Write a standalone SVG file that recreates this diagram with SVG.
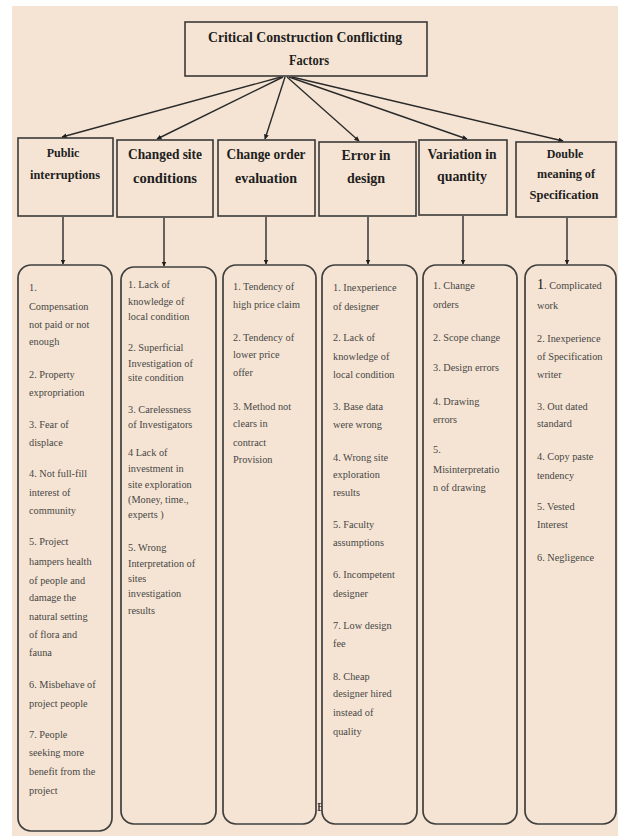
<svg xmlns="http://www.w3.org/2000/svg" width="618" height="836" viewBox="0 0 618 836">
<defs>
<style>
.box{fill:#F5E4D3;stroke:#3a3a3a;stroke-width:1.6}
.rbox{fill:#F5E4D3;stroke:#3f3f3f;stroke-width:1.7}
.hd{font-family:"Liberation Serif",serif;font-weight:bold;fill:#1e1e1e;text-anchor:middle}
.it{font-family:"Liberation Serif",serif;font-size:10.3px;fill:#474747}
.con{stroke:#2a2a2a;stroke-width:1.4;fill:none;marker-end:url(#ah)}
</style>
<marker id="ah" viewBox="0 0 10 10" refX="9" refY="5" markerWidth="5" markerHeight="5" orient="auto" markerUnits="userSpaceOnUse">
<path d="M0,0 L10,5 L0,10 z" fill="#1e1e1e"/>
</marker>
</defs>
<rect x="0" y="0" width="618" height="836" fill="#ffffff"/>
<rect x="12" y="6" width="606" height="830" fill="#F5E4D3"/>
<text x="317" y="811" font-family="Liberation Serif,serif" font-size="12" fill="#111">E</text>
<g id="connectors">
<line class="con" x1="281" y1="77" x2="62" y2="137"/>
<line class="con" x1="283" y1="77" x2="157" y2="139"/>
<line class="con" x1="285" y1="77" x2="265" y2="139"/>
<line class="con" x1="287" y1="77" x2="359" y2="141"/>
<line class="con" x1="289" y1="77" x2="467" y2="139"/>
<line class="con" x1="292" y1="77" x2="563" y2="141"/>
<line class="con" x1="63" y1="217" x2="63" y2="264"/>
<line class="con" x1="164" y1="218" x2="164" y2="266"/>
<line class="con" x1="266" y1="217" x2="266" y2="264"/>
<line class="con" x1="368" y1="217" x2="368" y2="264"/>
<line class="con" x1="463" y1="216" x2="463" y2="264"/>
<line class="con" x1="567" y1="218" x2="567" y2="264"/>
</g>
<g id="root">
<rect class="box" x="185" y="22" width="242" height="54"/>
<text class="hd" x="305" y="42" font-size="15" textLength="194" lengthAdjust="spacingAndGlyphs">Critical Construction Conflicting</text>
<text class="hd" x="309" y="65" font-size="15" textLength="40" lengthAdjust="spacingAndGlyphs">Factors</text>
</g>
<g id="n1">
<rect class="box" x="18" y="138" width="95" height="78"/>
<text class="hd" x="63" y="157" font-size="12">Public</text>
<text class="hd" x="65" y="179" font-size="12" textLength="70" lengthAdjust="spacingAndGlyphs">interruptions</text>
</g>
<g id="n2">
<rect class="box" x="117" y="140" width="96" height="77"/>
<text class="hd" x="165" y="159" font-size="14" textLength="74" lengthAdjust="spacingAndGlyphs">Changed site</text>
<text class="hd" x="165" y="183" font-size="14" textLength="64" lengthAdjust="spacingAndGlyphs">conditions</text>
</g>
<g id="n3">
<rect class="box" x="218" y="140" width="97" height="76"/>
<text class="hd" x="266" y="159" font-size="14" textLength="79" lengthAdjust="spacingAndGlyphs">Change order</text>
<text class="hd" x="266" y="183" font-size="14" textLength="62" lengthAdjust="spacingAndGlyphs">evaluation</text>
</g>
<g id="n4">
<rect class="box" x="319" y="142" width="97" height="74"/>
<text class="hd" x="366" y="160" font-size="14" textLength="49" lengthAdjust="spacingAndGlyphs">Error in</text>
<text class="hd" x="366" y="183" font-size="14">design</text>
</g>
<g id="n5">
<rect class="box" x="419" y="140" width="88" height="75"/>
<text class="hd" x="462" y="159" font-size="14" textLength="69" lengthAdjust="spacingAndGlyphs">Variation in</text>
<text class="hd" x="462" y="181" font-size="14" textLength="50" lengthAdjust="spacingAndGlyphs">quantity</text>
</g>
<g id="n6">
<rect class="box" x="516" y="142" width="100" height="75"/>
<text class="hd" x="565" y="158" font-size="12">Double</text>
<text class="hd" x="566" y="178" font-size="12" textLength="58" lengthAdjust="spacingAndGlyphs">meaning of</text>
<text class="hd" x="564" y="199" font-size="12" textLength="69" lengthAdjust="spacingAndGlyphs">Specification</text>
</g>
<g id="d1">
<rect class="rbox" x="18" y="265" width="94" height="566" rx="13"/>
<text class="it" x="29" y="291">1.</text>
<text class="it" x="29" y="310">Compensation</text>
<text class="it" x="29" y="328">not paid or not</text>
<text class="it" x="29" y="345">enough</text>
<text class="it" x="29" y="378">2. Property</text>
<text class="it" x="29" y="396">expropriation</text>
<text class="it" x="29" y="428">3. Fear of</text>
<text class="it" x="29" y="446">displace</text>
<text class="it" x="29" y="477">4. Not full-fill</text>
<text class="it" x="29" y="496">interest of</text>
<text class="it" x="29" y="514">community</text>
<text class="it" x="29" y="545">5. Project</text>
<text class="it" x="29" y="565">hampers health</text>
<text class="it" x="29" y="584">of people and</text>
<text class="it" x="29" y="601">damage the</text>
<text class="it" x="29" y="620">natural setting</text>
<text class="it" x="29" y="638">of flora and</text>
<text class="it" x="29" y="656">fauna</text>
<text class="it" x="29" y="688">6. Misbehave of</text>
<text class="it" x="29" y="707">project people</text>
<text class="it" x="29" y="738">7. People</text>
<text class="it" x="29" y="756">seeking more</text>
<text class="it" x="29" y="775">benefit from the</text>
<text class="it" x="29" y="794">project</text>
</g>
<g id="d2">
<rect class="rbox" x="121" y="267" width="95" height="557" rx="13"/>
<text class="it" x="128" y="288">1. Lack of</text>
<text class="it" x="128" y="305">knowledge of</text>
<text class="it" x="128" y="320">local condition</text>
<text class="it" x="128" y="351">2. Superficial</text>
<text class="it" x="128" y="367">Investigation of</text>
<text class="it" x="128" y="381">site condition</text>
<text class="it" x="128" y="413">3. Carelessness</text>
<text class="it" x="128" y="428">of Investigators</text>
<text class="it" x="128" y="456">4 Lack of</text>
<text class="it" x="128" y="472">investment in</text>
<text class="it" x="128" y="488">site exploration</text>
<text class="it" x="128" y="503">(Money, time.,</text>
<text class="it" x="128" y="518">experts )</text>
<text class="it" x="128" y="551">5. Wrong</text>
<text class="it" x="128" y="567">Interpretation of</text>
<text class="it" x="128" y="582">sites</text>
<text class="it" x="128" y="597">investigation</text>
<text class="it" x="128" y="614">results</text>
</g>
<g id="d3">
<rect class="rbox" x="223" y="265" width="93" height="559" rx="13"/>
<text class="it" x="233" y="290">1. Tendency of</text>
<text class="it" x="233" y="308">high price claim</text>
<text class="it" x="233" y="341">2. Tendency of</text>
<text class="it" x="233" y="358">lower price</text>
<text class="it" x="233" y="376">offer</text>
<text class="it" x="233" y="410">3. Method not</text>
<text class="it" x="233" y="427">clears in</text>
<text class="it" x="233" y="446">contract</text>
<text class="it" x="233" y="463">Provision</text>
</g>
<g id="d4">
<rect class="rbox" x="322" y="265" width="95" height="559" rx="13"/>
<text class="it" x="333" y="291">1. Inexperience</text>
<text class="it" x="333" y="310">of designer</text>
<text class="it" x="333" y="341">2. Lack of</text>
<text class="it" x="333" y="360">knowledge of</text>
<text class="it" x="333" y="378">local condition</text>
<text class="it" x="333" y="410">3. Base data</text>
<text class="it" x="333" y="428">were wrong</text>
<text class="it" x="333" y="461">4. Wrong site</text>
<text class="it" x="333" y="478">exploration</text>
<text class="it" x="333" y="496">results</text>
<text class="it" x="333" y="528">5. Faculty</text>
<text class="it" x="333" y="546">assumptions</text>
<text class="it" x="333" y="578">6. Incompetent</text>
<text class="it" x="333" y="597">designer</text>
<text class="it" x="333" y="629">7. Low design</text>
<text class="it" x="333" y="647">fee</text>
<text class="it" x="333" y="680">8. Cheap</text>
<text class="it" x="333" y="697">designer hired</text>
<text class="it" x="333" y="716">instead of</text>
<text class="it" x="333" y="735">quality</text>
</g>
<g id="d5">
<rect class="rbox" x="423" y="265" width="94" height="559" rx="13"/>
<text class="it" x="433" y="289">1. Change</text>
<text class="it" x="433" y="308">orders</text>
<text class="it" x="433" y="341">2. Scope change</text>
<text class="it" x="433" y="371">3. Design errors</text>
<text class="it" x="433" y="405">4. Drawing</text>
<text class="it" x="433" y="423">errors</text>
<text class="it" x="433" y="453">5.</text>
<text class="it" x="433" y="473">Misinterpretatio</text>
<text class="it" x="433" y="491">n of drawing</text>
</g>
<g id="d6">
<rect class="rbox" x="525" y="265" width="91" height="559" rx="13"/>
<text class="it" x="537" y="289"><tspan font-size="14" fill="#111">1</tspan>. Complicated</text>
<text class="it" x="537" y="309">work</text>
<text class="it" x="537" y="342">2. Inexperience</text>
<text class="it" x="537" y="360">of Specification</text>
<text class="it" x="537" y="378">writer</text>
<text class="it" x="537" y="410">3. Out dated</text>
<text class="it" x="537" y="427">standard</text>
<text class="it" x="537" y="460">4. Copy paste</text>
<text class="it" x="537" y="479">tendency</text>
<text class="it" x="537" y="510">5. Vested</text>
<text class="it" x="537" y="528">Interest</text>
<text class="it" x="537" y="561">6. Negligence</text>
</g>
</svg>
